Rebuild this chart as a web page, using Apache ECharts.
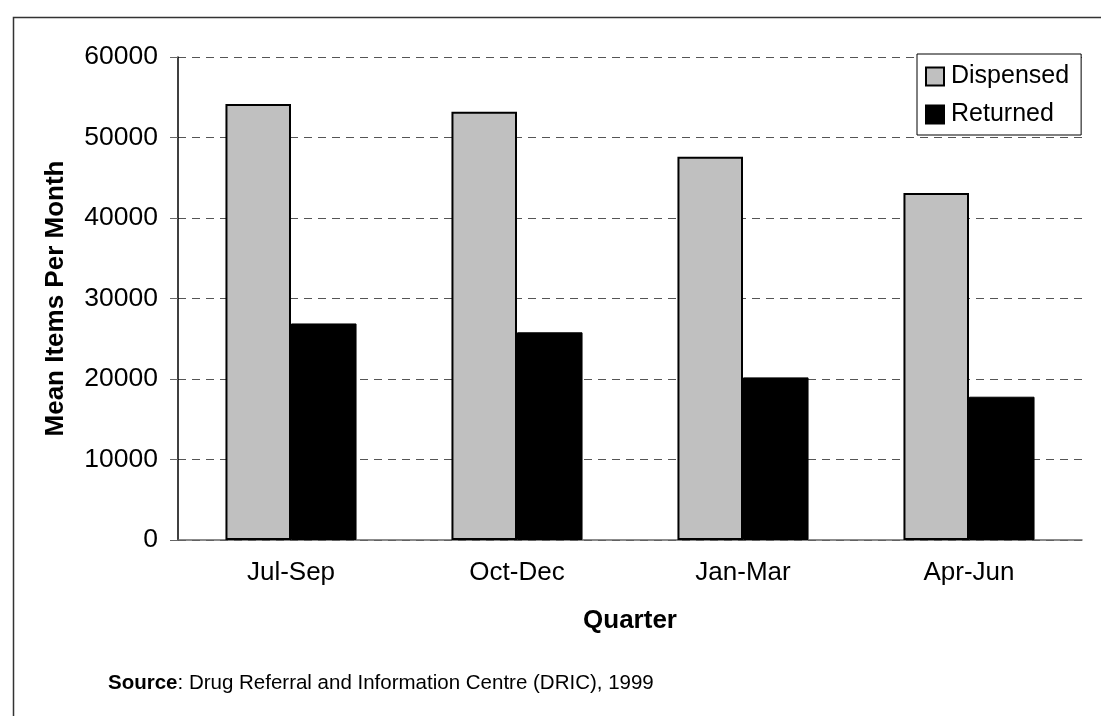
<!DOCTYPE html>
<html>
<head>
<meta charset="utf-8">
<script src="https://cdn.jsdelivr.net/npm/echarts@6/dist/echarts.min.js"></script>
<style>
html,body{margin:0;padding:0;background:#fff;}
#main{width:1101px;height:716px;}
</style>
</head>
<body>
<div id="main"></div>
<script>
var quarters = ['Jul-Sep', 'Oct-Dec', 'Jan-Mar', 'Apr-Jun'];
var dispensed = [54150, 53200, 47600, 43100];
var returned = [26900, 25800, 20200, 17800];
var yTicks = [0, 10000, 20000, 30000, 40000, 50000, 60000];

var font = '"Liberation Sans", Arial, sans-serif';
var chart = echarts.init(document.getElementById('main'));

var option = {
	backgroundColor: '#fff',
	animation: false,
	textStyle: { fontFamily: font },
	grid: { left: 178, right: 19, top: 57, bottom: 176 },
	legend: {
		orient: 'vertical',
		left: 917,
		top: 54,
		padding: [10, 12, 8, 8],
		itemGap: 13,
		itemWidth: 18,
		itemHeight: 18,
		icon: 'rect',
		itemStyle: { borderColor: '#000', borderWidth: 2 },
		borderColor: '#000',
		borderWidth: 1,
		backgroundColor: '#fff',
		textStyle: { fontSize: 25, color: '#000', fontFamily: font, padding: [0, 0, 0, 2] },
		data: ['Dispensed', 'Returned']
	},
	xAxis: {
		type: 'category',
		data: quarters,
		name: 'Quarter',
		nameLocation: 'middle',
		nameGap: 68,
		nameTextStyle: { fontSize: 26, fontWeight: 'bold', color: '#000' },
		axisLine: { lineStyle: { color: '#666', width: 1.5 } },
		axisTick: { inside: true, length: 8, lineStyle: { color: '#666' } },
		axisLabel: { fontSize: 26, color: '#000', margin: 20 }
	},
	yAxis: {
		type: 'value',
		min: yTicks[0],
		max: yTicks[yTicks.length - 1],
		interval: 10000,
		name: 'Mean Items Per Month',
		nameLocation: 'middle',
		nameGap: 109,
		nameTextStyle: { fontSize: 26, fontWeight: 'bold', color: '#000' },
		axisLine: { show: true, lineStyle: { color: '#000', width: 1.5 } },
		axisTick: { show: true, length: 8, lineStyle: { color: '#666' } },
		axisLabel: { fontSize: 26.5, color: '#000', margin: 20, formatter: function (v) { return String(v); } },
		splitLine: { lineStyle: { color: '#555', type: [8, 6], width: 1 } }
	},
	series: [
		{
			name: 'Dispensed',
			type: 'bar',
			data: dispensed,
			barGap: '0%',
			barCategoryGap: '42%',
			itemStyle: { color: '#C0C0C0', borderColor: '#000', borderWidth: 2 }
		},
		{
			name: 'Returned',
			type: 'bar',
			data: returned,
			itemStyle: { color: '#000', borderColor: '#000', borderWidth: 1 }
		}
	],
	graphic: [
		{
			type: 'rect',
			left: 11,
			top: 15,
			shape: { width: 1200, height: 800 },
			style: { fill: 'none', stroke: '#333', lineWidth: 1.5 },
			z: -1
		},
		{
			type: 'text',
			left: 108,
			top: 673,
			style: {
				rich: {
					b: { fontSize: 20.5, fontWeight: 'bold', fill: '#000', fontFamily: font },
					n: { fontSize: 20.5, fill: '#000', fontFamily: font }
				},
				text: '{b|Source}{n|: Drug Referral and Information Centre (DRIC), 1999}'
			}
		}
	]
};
chart.setOption(option);
</script>
</body>
</html>
